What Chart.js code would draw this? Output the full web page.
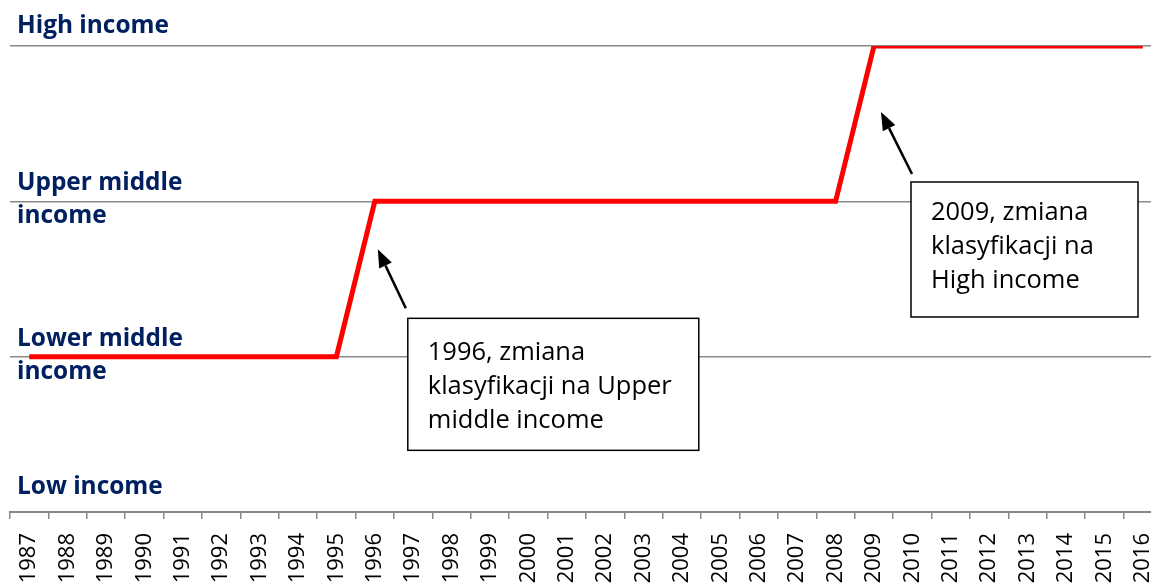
<!DOCTYPE html>
<html>
<head>
<meta charset="utf-8">
<script src="https://cdn.jsdelivr.net/npm/chart.js@4.4.1/dist/chart.umd.min.js"></script>
<style>
html,body{margin:0;padding:0;overflow:hidden;background:#fff;width:1151px;height:583px;}
#c{position:absolute;left:0;top:0;}
</style>
</head>
<body>
<canvas id="c" width="1162" height="600"></canvas>
<script>
const years = ['1987','1988','1989','1990','1991','1992','1993','1994','1995','1996','1997','1998','1999','2000','2001','2002','2003','2004','2005','2006','2007','2008','2009','2010','2011','2012','2013','2014','2015','2016'];
// 0 = Low, 1 = Lower middle, 2 = Upper middle, 3 = High
const incomeLevel = [1,1,1,1,1,1,1,1,1,2,2,2,2,2,2,2,2,2,2,2,2,2,3,3,3,3,3,3,3,3];
const yTickLabels = [['Low income'],['Lower middle','income'],['Upper middle','income'],['High income']];
const notes = [
  {year:'1996', level:2, lines:['1996, zmiana','klasyfikacji na Upper','middle income']},
  {year:'2009', level:3, lines:['2009, zmiana','klasyfikacji na','High income']}
];

const FONT = '"Open Sans", Lato, sans-serif';
const GRID = '#898989';

// pick font size so that a sample string has the reference width
function fitSize(ctx, weight, sample, target){
  ctx.font = weight + ' 100px ' + FONT;
  return 100 * target / ctx.measureText(sample).width;
}

const overlay = {
  id:'overlay',
  afterDatasetsDraw(chart){
    const ctx = chart.ctx, ys = chart.scales.y, xs = chart.scales.x;
    ctx.save();
    const bsz = fitSize(ctx, 'bold', 'Lower middle', 166);
    const rsz = fitSize(ctx, 'normal', 'klasyfikacji na Upper', 244);
    // y labels
    ctx.fillStyle = '#002060';
    ctx.font = 'bold ' + bsz + 'px ' + FONT;
    ctx.textBaseline = 'middle';
    ctx.textAlign = 'left';
    yTickLabels.forEach((lab, v) => {
      const py = ys.getPixelForValue(v);
      if (lab.length === 1) {
        ctx.fillText(lab[0], 17, py - (v === 0 ? 25 : 20));
      } else {
        ctx.fillText(lab[0], 17, py - 18);
        ctx.fillText(lab[1], 17, py + 15);
      }
    });
    // annotations
    const cfg = [
      {tip:[3,48], tail:[31,107], box:[33,117,291,132], text:[20,34]},
      {tip:[7,66], tail:[38,128], box:[37,136,227,135], text:[20,31]}
    ];
    notes.forEach((n, i) => {
      const c = cfg[i];
      const px = xs.getPixelForValue(years.indexOf(n.year));
      const py = ys.getPixelForValue(n.level);
      const tx = px + c.tip[0], ty = py + c.tip[1];
      const sx = px + c.tail[0], sy = py + c.tail[1];
      const ang = Math.atan2(ty - sy, tx - sx);
      const hl = 18, hw = 7;
      const bx = tx - hl*Math.cos(ang), by = ty - hl*Math.sin(ang);
      ctx.strokeStyle = '#000'; ctx.lineWidth = 2.5;
      ctx.beginPath(); ctx.moveTo(sx, sy); ctx.lineTo(bx, by); ctx.stroke();
      ctx.fillStyle = '#000';
      ctx.beginPath();
      ctx.moveTo(tx, ty);
      ctx.lineTo(bx + hw*Math.sin(ang), by - hw*Math.cos(ang));
      ctx.lineTo(bx - hw*Math.sin(ang), by + hw*Math.cos(ang));
      ctx.closePath(); ctx.fill();
      const x0 = px + c.box[0], y0 = py + c.box[1];
      ctx.fillStyle = '#fff';
      ctx.fillRect(x0, y0, c.box[2], c.box[3]);
      ctx.lineWidth = 1.5;
      ctx.strokeRect(x0, y0, c.box[2], c.box[3]);
      ctx.fillStyle = '#000';
      ctx.font = rsz + 'px ' + FONT;
      ctx.textBaseline = 'middle';
      n.lines.forEach((l, k) => ctx.fillText(l, x0 + c.text[0], y0 + c.text[1] + k*34));
    });
    ctx.restore();
  }
};

new Chart(document.getElementById('c'), {
  type:'line',
  data:{labels:years, datasets:[{data:incomeLevel, borderColor:'#ff0000', borderWidth:5, pointRadius:0, tension:0, fill:false, borderCapStyle:'butt', borderJoinStyle:'miter'}]},
  options:{
    responsive:false, maintainAspectRatio:false, animation:false, devicePixelRatio:1,
    layout:{padding:{top:46, left:0, right:0, bottom:0}},
    plugins:{legend:{display:false}, tooltip:{enabled:false}},
    scales:{
      x:{
        offset:true,
        grid:{offset:true, drawOnChartArea:false, drawTicks:true, tickLength:7, color:GRID, lineWidth:1.5},
        border:{display:true, color:GRID, width:2},
        ticks:{minRotation:90, maxRotation:90, autoSkip:false, padding:14, color:'#000', font:{family:FONT, size:22}},
        afterFit(s){ s.height = 88; s.paddingRight = 0; s.paddingLeft = 0; }
      },
      y:{
        min:0, max:3,
        ticks:{display:false, stepSize:1},
        grid:{color:GRID, lineWidth:1.5, drawTicks:false},
        border:{display:false},
        afterFit(s){ s.width = 10; }
      }
    }
  },
  plugins:[overlay]
});
</script>
</body>
</html>
